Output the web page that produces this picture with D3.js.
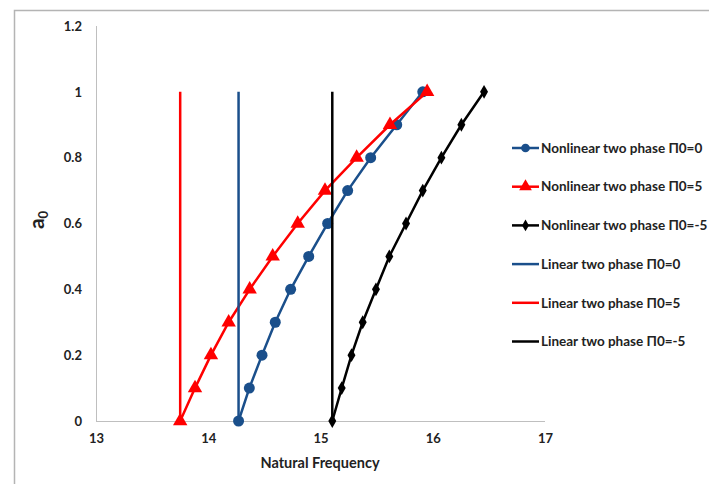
<!DOCTYPE html>
<html>
<head>
<meta charset="utf-8">
<script src="https://cdn.jsdelivr.net/npm/d3@7"></script>
<style>
  body { margin: 0; background: #fff; }
  svg { display: block; font-family: "Lato", "Open Sans", sans-serif; font-weight: bold; }
</style>
</head>
<body>
<svg id="chart" width="709" height="484"></svg>
<script>
// a0 vs natural frequency, nonlinear vs linear two phase

const amplitudes = [0, 0.1, 0.2, 0.3, 0.4, 0.5, 0.6, 0.7, 0.8, 0.9, 1.0];
const freqNonlinP0 = [14.27, 14.366, 14.479, 14.597, 14.734, 14.895, 15.064, 15.242, 15.447, 15.679, 15.911];
const freqNonlinP5 = [13.75, 13.882, 14.024, 14.182, 14.369, 14.574, 14.797, 15.04, 15.322, 15.619, 15.95];
const freqNonlinM5 = [15.105, 15.189, 15.276, 15.376, 15.494, 15.613, 15.762, 15.911, 16.077, 16.255, 16.457];
const linearFreq = { p0: 14.27, p5: 13.75, m5: 15.105 };
const linearRange = [0, 1];
const xTicks = [13, 14, 15, 16, 17];
const yTicks = [0, 0.2, 0.4, 0.6, 0.8, 1, 1.2];

const blue = '#1a4f8b', red = '#ff0000', black = '#000000';

const series = [
  { name: 'Nonlinear two phase \u03A00=0', color: blue, marker: 'circle', xs: freqNonlinP0, ys: amplitudes },
  { name: 'Nonlinear two phase \u03A00=5', color: red, marker: 'triangle', xs: freqNonlinP5, ys: amplitudes },
  { name: 'Nonlinear two phase \u03A00=-5', color: black, marker: 'diamond', xs: freqNonlinM5, ys: amplitudes },
  { name: 'Linear two phase \u03A00=0', color: blue, marker: null, xs: [linearFreq.p0, linearFreq.p0], ys: linearRange },
  { name: 'Linear two phase \u03A00=5', color: red, marker: null, xs: [linearFreq.p5, linearFreq.p5], ys: linearRange },
  { name: 'Linear two phase \u03A00=-5', color: black, marker: null, xs: [linearFreq.m5, linearFreq.m5], ys: linearRange }
];

const svg = d3.select('#chart');

// outer chart frame (only top and left show)
svg.append('path')
  .attr('d', 'M14.5,490 V10.5 H720')
  .attr('fill', 'none')
  .attr('stroke', '#b4b4b4')
  .attr('stroke-width', 1.5);

const x = d3.scaleLinear().domain([13, 17]).range([96, 545]);
const y = d3.scaleLinear().domain([0, 1.2]).range([421, 26]);

// axis lines
svg.append('line')
  .attr('x1', x(13)).attr('x2', x(17)).attr('y1', y(0) + 0.5).attr('y2', y(0) + 0.5)
  .attr('stroke', '#bfbfbf').attr('stroke-width', 1);
svg.append('line')
  .attr('x1', x(13) + 0.5).attr('x2', x(13) + 0.5).attr('y1', y(0)).attr('y2', y(1.2))
  .attr('stroke', '#bfbfbf').attr('stroke-width', 1);

const xAxis = svg.append('g')
  .attr('transform', `translate(0,${y(0)})`)
  .call(d3.axisBottom(x).tickValues(xTicks).tickSize(0).tickPadding(13).tickFormat(d3.format('d')));
xAxis.select('.domain').remove();
xAxis.selectAll('text').attr('font-size', 13).attr('font-family', 'Lato, sans-serif').attr('font-weight', 'bold').attr('fill', '#222');

const yAxis = svg.append('g')
  .attr('transform', `translate(${x(13)},0)`)
  .call(d3.axisLeft(y).tickValues(yTicks).tickSize(0).tickPadding(14).tickFormat(d => d3.format('')(d)));
yAxis.select('.domain').remove();
yAxis.selectAll('text').attr('font-size', 13).attr('font-family', 'Lato, sans-serif').attr('font-weight', 'bold').attr('fill', '#222');

// axis titles
svg.append('text')
  .attr('x', 320).attr('y', 468)
  .attr('text-anchor', 'middle')
  .attr('font-size', 14.5)
  .attr('fill', '#222')
  .text('Natural Frequency');

const yTitle = svg.append('text')
  .attr('transform', 'translate(44,220) rotate(-90)')
  .attr('text-anchor', 'middle')
  .attr('font-weight', 'bold')
  .attr('fill', '#222');
yTitle.append('tspan').attr('font-size', 21).text('a');
yTitle.append('tspan').attr('font-size', 13).attr('dy', 4).text('0');

const line = d3.line().x(d => x(d[0])).y(d => y(d[1]));

const markerPath = {
  circle: d3.symbol(d3.symbolCircle, 95),
  triangle: d3.symbol(d3.symbolTriangle, 90),
  diamond: d3.symbol(d3.symbolDiamond, 55)
};

series.forEach(s => {
  const pts = s.xs.map((v, i) => [v, s.ys[i]]);
  const g = svg.append('g');
  g.append('path')
    .attr('d', line(pts))
    .attr('fill', 'none')
    .attr('stroke', s.color)
    .attr('stroke-width', 2.5);
  if (s.marker) {
    g.selectAll('path.m')
      .data(pts)
      .join('path')
      .attr('class', 'm')
      .attr('transform', d => `translate(${x(d[0])},${y(d[1])})`)
      .attr('d', markerPath[s.marker])
      .attr('fill', s.color);
  }
});

// legend
const legend = svg.append('g');
series.forEach((s, i) => {
  const ly = 148 + i * 38.7;
  const g = legend.append('g').attr('transform', `translate(512,${ly})`);
  g.append('line')
    .attr('x1', 0).attr('x2', 27)
    .attr('stroke', s.color).attr('stroke-width', 2.5);
  if (s.marker) {
    const size = s.marker === 'circle' ? 60 : s.marker === 'triangle' ? 70 : 40;
    g.append('path')
      .attr('transform', 'translate(13.5,0)')
      .attr('d', d3.symbol(s.marker === 'circle' ? d3.symbolCircle : s.marker === 'triangle' ? d3.symbolTriangle : d3.symbolDiamond, size))
      .attr('fill', s.color);
  }
  g.append('text')
    .attr('x', 29).attr('dy', '0.35em')
    .attr('font-size', 13.5)
    .attr('fill', '#222')
    .text(s.name);
});
</script>
</body>
</html>
